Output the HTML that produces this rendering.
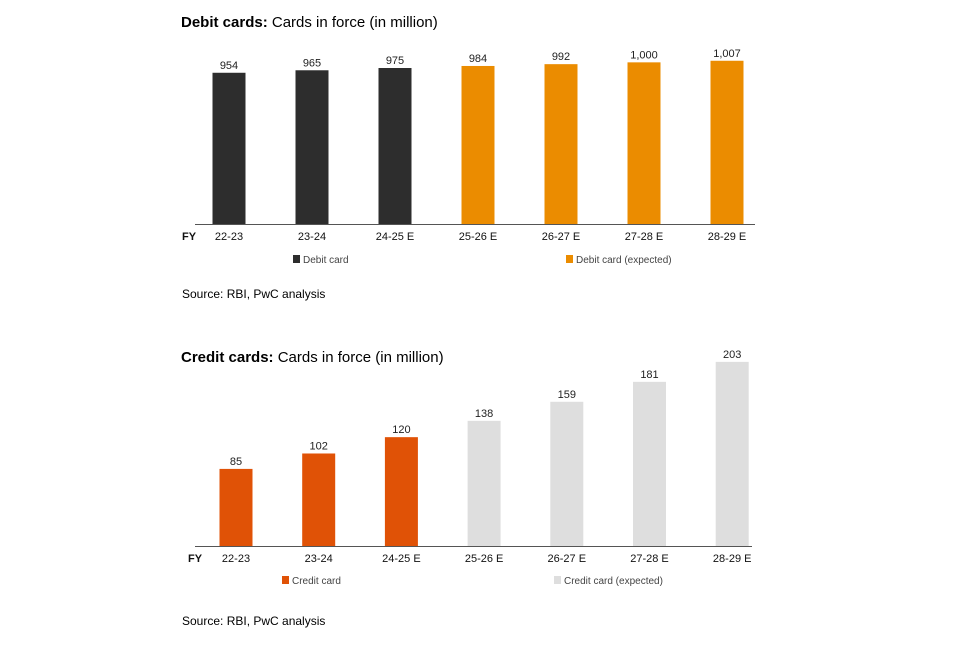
<!DOCTYPE html>
<html><head><meta charset="utf-8"><style>
body{margin:0;background:#fff;font-family:"Liberation Sans",Arial,sans-serif;}
svg text{font-family:"Liberation Sans",Arial,sans-serif;}
</style></head><body>
<svg id="c" width="960" height="640" viewBox="0 0 960 640">
<text x="181" y="27" font-size="15" fill="#000"><tspan font-weight="bold">Debit cards:</tspan> Cards in force (in million)</text>
<text x="181" y="362" font-size="15" fill="#000"><tspan font-weight="bold">Credit cards:</tspan> Cards in force (in million)</text>
<text x="182" y="298" font-size="12" fill="#000">Source: RBI, PwC analysis</text>
<text x="182" y="625" font-size="12" fill="#000">Source: RBI, PwC analysis</text>
<g id="g1"></g><g id="g2"></g>
</svg>
<script>
const categories=["22-23","23-24","24-25 E","25-26 E","26-27 E","27-28 E","28-29 E"];
const debitValues=[954,965,975,984,992,1000,1007];
const debitLabels=["954","965","975","984","992","1,000","1,007"];
const creditValues=[85,102,120,138,159,181,203];
const creditLabels=["85","102","120","138","159","181","203"];
const actualCount=3;
const NS="http://www.w3.org/2000/svg";
function mk(t,a,p){const e=document.createElementNS(NS,t);for(const k in a)e.setAttribute(k,a[k]);p.appendChild(e);return e;}
function draw(g,o){
  const x=i=>o.x0+i*o.step;
  const y=v=>o.base-(v-o.min)*o.k;
  o.vals.forEach((v,i)=>{
    const r=mk("rect",{x:x(i)-16.5,y:y(v),width:33,height:o.base-y(v),fill:i<actualCount?o.c1:o.c2},g);
    
    
    const t=mk("text",{x:x(i),y:y(v)-4,"text-anchor":"middle","font-size":"11",fill:"#222"},g);
    t.textContent=o.labels[i];
    
    
    const c=mk("text",{x:x(i),y:o.base+16,"text-anchor":"middle","font-size":"11",fill:"#111"},g);
    c.textContent=categories[i];
    
    
  });
  const l=mk("line",{x1:195,x2:o.x1,y1:o.base+0.5,y2:o.base+0.5,stroke:"#555","stroke-width":1},g);
  
  
  const fy=mk("text",{x:o.fyx,y:o.base+16,"font-size":"11","font-weight":"bold",fill:"#111"},g);
  fy.textContent="FY";
  
  
  [[o.l1x,o.c1,o.n1],[o.l2x,o.c2,o.n2]].forEach(([lx,c,n])=>{
    const s=mk("rect",{x:lx,y:o.ly-8,width:7,height:8,fill:c},g);
    
    
    const t=mk("text",{x:lx+10,y:o.ly,"font-size":"10",fill:"#444"},g);
    t.textContent=n;
    
    
  });
}
draw(document.getElementById('g1'),{id:"debit",vals:debitValues,labels:debitLabels,x0:229,step:83,base:224,min:286,k:0.2264,c1:"#2d2d2d",c2:"#eb8c00",x1:755,fyx:182,ly:263,l1x:293,l2x:566,n1:"Debit card",n2:"Debit card (expected)"});
draw(document.getElementById('g2'),{id:"credit",vals:creditValues,labels:creditLabels,x0:236,step:82.7,base:546,min:0,k:0.907,c1:"#e05206",c2:"#dedede",x1:752,fyx:188,ly:584,l1x:282,l2x:554,n1:"Credit card",n2:"Credit card (expected)"});
</script>
</body></html>
